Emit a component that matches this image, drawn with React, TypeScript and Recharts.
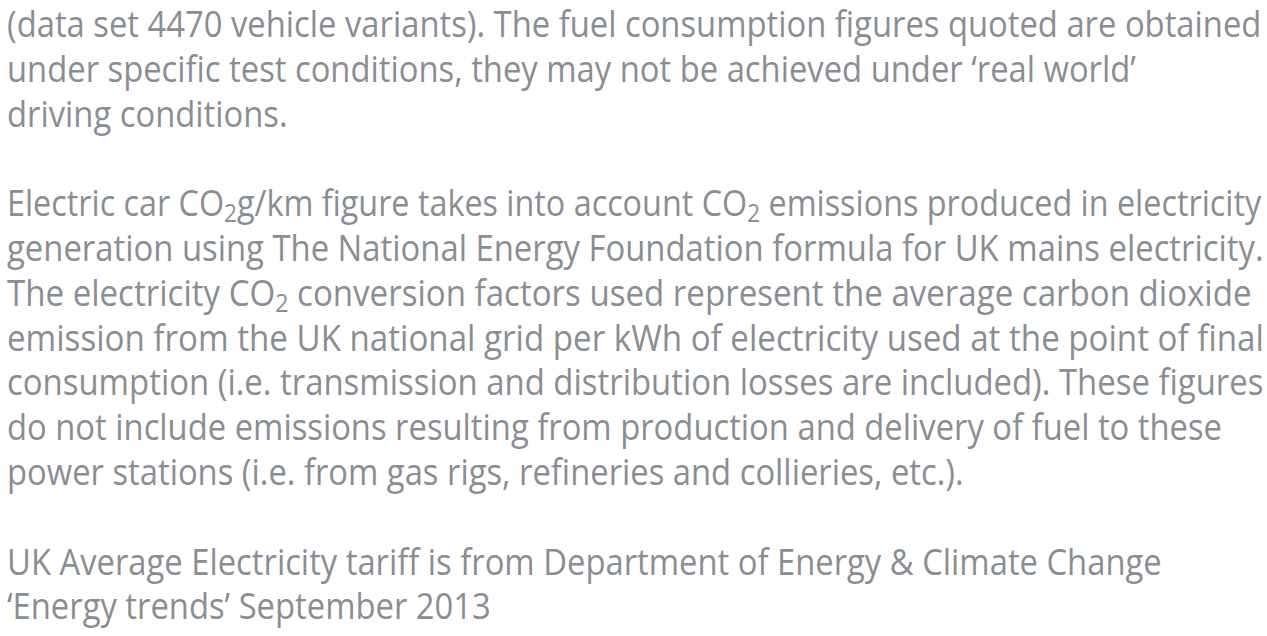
import React, { useLayoutEffect, useRef, useState } from "react";
import { Surface, Layer } from "recharts";

// Text lines; "_2" marks a subscript 2. Empty string = blank line.
const paragraphOne: string[] = [
  "(data set 4470 vehicle variants). The fuel consumption figures quoted are obtained",
  "under specific test conditions, they may not be achieved under \u2018real world\u2019",
  "driving conditions.",
];
const paragraphTwo: string[] = [
  "Electric car CO_2g/km figure takes into account CO_2 emissions produced in electricity",
  "generation using The National Energy Foundation formula for UK mains electricity.",
  "The electricity CO_2 conversion factors used represent the average carbon dioxide",
  "emission from the UK national grid per kWh of electricity used at the point of final",
  "consumption (i.e. transmission and distribution losses are included). These figures",
  "do not include emissions resulting from production and delivery of fuel to these",
  "power stations (i.e. from gas rigs, refineries and collieries, etc.).",
];
const paragraphThree: string[] = [
  "UK Average Electricity tariff is from Department of Energy & Climate Change",
  "\u2018Energy trends\u2019 September 2013",
];

const allLines: string[] = [...paragraphOne, "", ...paragraphTwo, "", ...paragraphThree];

// right-edge targets (px) for lines that run to the right edge in the reference
const edgeTargets: Record<number, number> = { 0: 1262, 4: 1262, 5: 1264, 6: 1252, 7: 1264, 8: 1264 };

const W = 1267;
const H = 636;
const LEFT = 7;
const FIRST_BASELINE = 37;
const LINE_STEP = 44.8;
const FONT_SIZE = 37;
const COLOR = "#8a8d92";
const SUB_SHIFT = 6;

function renderLine(line: string) {
  const parts = line.split("_2");
  const out: React.ReactNode[] = [];
  parts.forEach((p, i) => {
    out.push(
      <tspan key={`t${i}`} dy={i > 0 ? -SUB_SHIFT : undefined}>
        {p}
      </tspan>
    );
    if (i < parts.length - 1) {
      out.push(
        <tspan key={`s${i}`} fontSize={FONT_SIZE * 0.7} dy={SUB_SHIFT}>
          2
        </tspan>
      );
    }
  });
  return out;
}

export default function App() {
  const refs = useRef<(SVGTextElement | null)[]>([]);
  const [scales, setScales] = useState<number[]>(allLines.map(() => 1));
  useLayoutEffect(() => {
    const widths = allLines.map((_, i) => {
      const el = refs.current[i];
      return el ? el.getBBox().width : 0;
    });
    const base = (edgeTargets[0] - LEFT) / widths[0];
    setScales(
      allLines.map((_, i) => {
        if (widths[i] <= 0) return base;
        if (edgeTargets[i] !== undefined) return (edgeTargets[i] - LEFT) / widths[i];
        return base;
      })
    );
  }, []);
  return (
    <div style={{ position: "fixed", left: 0, top: 0, width: W, height: H, background: "#ffffff" }}>
      <Surface width={W} height={H}>
        <Layer>
          {allLines.map((line, i) =>
            line === "" ? null : (
              <text
                key={i}
                ref={(el) => {
                  refs.current[i] = el;
                }}
                transform={`translate(${LEFT},${FIRST_BASELINE + i * LINE_STEP}) scale(${scales[i]},1)`}
                x={0}
                y={0}
                fill={COLOR}
                fontFamily="'Open Sans', sans-serif"
                fontSize={FONT_SIZE}
                xmlSpace="preserve"
              >
                {renderLine(line)}
              </text>
            )
          )}
        </Layer>
      </Surface>
    </div>
  );
}
